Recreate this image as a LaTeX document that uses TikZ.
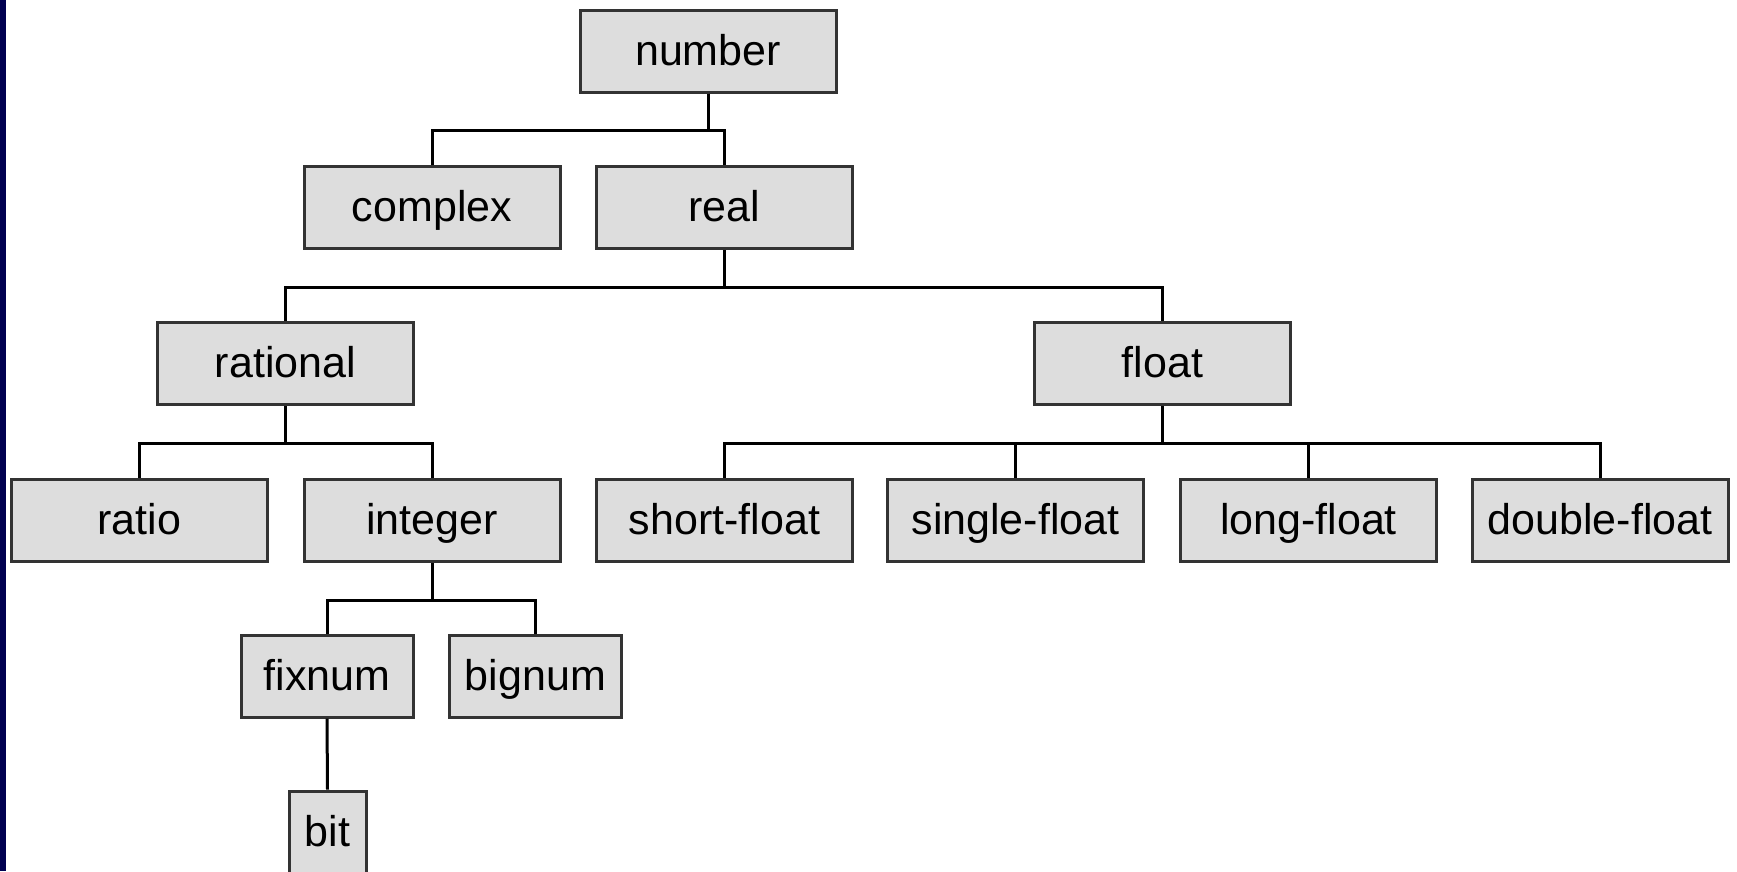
\documentclass[tikz,border=0pt]{standalone}
\usepackage{fontspec}
\setmainfont{Liberation Sans}
\definecolor{boxfill}{HTML}{DDDDDD}
\definecolor{boxline}{HTML}{333333}
\definecolor{navystrip}{HTML}{000050}
\tikzset{
  typebox/.style={draw=boxline, fill=boxfill, line width=3pt, rectangle,
    minimum width=256pt, minimum height=82pt, inner sep=0pt,
    text height=34pt, text depth=6pt,
    font=\fontsize{43}{50}\selectfont},
  midbox/.style={typebox, minimum width=172pt},
  tinybox/.style={typebox, minimum width=77pt},
  link/.style={draw=black, line width=3pt}
}
\begin{document}
\begin{tikzpicture}[x=1pt, y=-1pt]
  \useasboundingbox (0,0) rectangle (1737,871);
  \clip (0,0) rectangle (1737,871);
  \fill[white] (0,0) rectangle (1737,871);
  \fill[navystrip] (0,0) rectangle (6,871);

  % level 0
  \node[typebox] (number) at (708,51) {number};
  % level 1
  \node[typebox] (complex) at (432,207.5) {complex};
  \node[typebox] (real) at (724,207.5) {real};
  % level 2
  \node[typebox] (rational) at (285.5,363.5) {rational};
  \node[typebox] (float) at (1162.5,363.5) {float};
  % level 3
  \node[typebox] (ratio) at (139.5,520.5) {ratio};
  \node[typebox] (integer) at (432,520.5) {integer};
  \node[typebox] (short) at (724.5,520.5) {short-float};
  \node[typebox] (single) at (1015.5,520.5) {single-float};
  \node[typebox] (long) at (1308.5,520.5) {long-float};
  \node[typebox] (double) at (1600,520.5) {double-float};
  % level 4
  \node[midbox] (fixnum) at (327,676) {fixnum};
  \node[midbox] (bignum) at (535.5,676) {bignum};
  % level 5
  \node[tinybox] (bit) at (327.5,832) {bit};

  % connectors: down from parent, across, down to child
  \foreach \p/\c in {number/complex, number/real,
                     real/rational, real/float,
                     rational/ratio, rational/integer,
                     float/short, float/single, float/long, float/double,
                     integer/fixnum, integer/bignum}
    \draw[link] (\p.south) -- ++(0,37) -| (\c.north);
  \draw[link] (fixnum.south) -- (bit.north);
\end{tikzpicture}
\end{document}
